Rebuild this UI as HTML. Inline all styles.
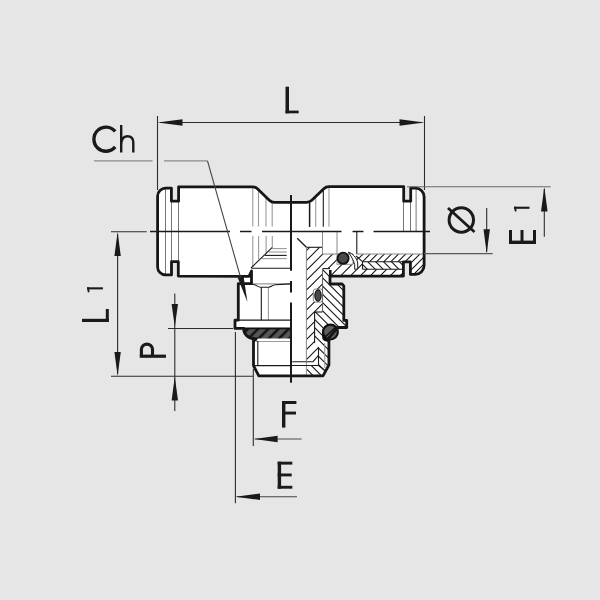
<!DOCTYPE html>
<html><head><meta charset="utf-8">
<style>
html,body{margin:0;padding:0;background:#e6e6e6;width:600px;height:600px;overflow:hidden}
svg{display:block}
</style></head>
<body>
<svg width="600" height="600" viewBox="0 0 600 600">
<defs>
<pattern id="hS" patternUnits="userSpaceOnUse" width="7.2" height="7.2" patternTransform="rotate(-45) translate(0,1)">
<rect width="7.2" height="7.2" fill="#575757"/>
<rect x="0" y="2.4" width="7.2" height="2.5" fill="#121212"/>
</pattern>
<pattern id="hO" patternUnits="userSpaceOnUse" width="2" height="2" patternTransform="rotate(-45)">
<rect width="2" height="2" fill="#6a6a6a"/>
<rect x="0" y="0.5" width="2" height="0.9" fill="#1e1e1e"/>
</pattern>
<path id="sil" d="M157.6,196 A8,8 0 0 1 165.6,188.2 L171.4,188.2 L171.4,201.2 L178.6,201.2 L178.6,186.8 L252.5,186.8 Q255.5,186.8 257.7,188.9 L269.3,200.2 Q271.5,202.3 274.5,202.3 L306.6,202.3 Q309.6,202.3 311.8,200.2 L323.8,188.8 Q326,186.7 329,186.7 L403.7,186.7 L403.7,201.2 L410.7,201.2 L410.7,188.2 L415.6,188.2 A8.5,8.5 0 0 1 424.1,196.7 L424.1,265.6 A8.8,8.8 0 0 1 415.3,274.4 L410.4,274.4 L410.4,261.9 L403.4,261.9 L403.4,276.1 L330,276.1 L330,284 L342,284 L343.8,286 L343.8,320.4 L346.7,320.4 L346.7,327.5 L337.5,327.5 L328.9,338 L328.9,365 L323,375.8 L258.8,375.8 L253.5,365.6 L253.5,340.5 L253.5,338.4 A9.8,9.8 0 0 1 243.7,328.4 L235,328.4 L235,320.2 L238.3,320.2 L238.3,283.6 L251.5,283.6 L251.5,271 L249,276.3 L178.3,276.1 L178.3,261.7 L171.5,261.7 L171.5,274.9 L165.6,274.9 A8,8 0 0 1 157.6,266.9 Z"/>
<path id="insert" d="M322.5,268.6 L330,268.6 L330,284 L342,284 L343.8,286 L343.8,320.4 L346.7,320.4 L346.7,327.5 L337.5,327.5 L328.9,338 L328.9,365 L323,375.8 L306.4,375.8 L306.4,365 L318.5,365 L318.5,347 L314.6,343 L314.6,312 L322.5,312 Z"/>
<path id="body" d="M306.4,247.3 L322.5,247.3 L322.5,254 L424.1,254 L424.1,265.6 A8.8,8.8 0 0 1 415.3,274.4 L410.4,274.4 L410.4,261.9 L403.4,261.9 L403.4,276.1 L330,276.1 L330,268.6 L322.5,268.6 L322.5,312 L314.6,312 L314.6,343 L318.5,347 L318.5,355.4 L313,361.7 L306.4,361.7 Z"/>
</defs>
<rect width="600" height="600" fill="#e6e6e6"/>

<!-- ===== body fill ===== -->
<use href="#sil" fill="#fff"/>
<rect x="238.3" y="275" width="13.2" height="9.5" fill="#fff"/>

<!-- ===== hatched sections ===== -->
<defs>
<clipPath id="cBody"><path d="M306.4,247.3 L322.5,247.3 L322.5,254 L356,254 L362.5,261.7 L403.4,261.9 L403.4,276.1 L330,276.1 L330,268.6 L322.5,268.6 L322.5,312 L314.6,312 L314.6,343 L318.5,347 L318.5,355.4 L313,361.7 L306.4,361.7 Z"/></clipPath>
<clipPath id="cTop"><path d="M356,254 L424.1,254 L424.1,265.6 A8.8,8.8 0 0 1 415.3,274.4 L410.4,274.4 L410.4,261.9 L362.5,261.7 Z"/></clipPath>
<clipPath id="cMid"><path d="M362.5,261.7 L403.4,261.9 L403.4,269.2 L362.5,269.2 Z"/></clipPath>
<clipPath id="cIns"><path d="M322.5,268.6 L330,268.6 L330,284 L342,284 L343.8,286 L343.8,320.4 L346.7,320.4 L346.7,327.5 L337.5,327.5 L328.9,338 L328.9,365 L323,375.8 L306.4,375.8 L306.4,365 L318.5,365 L318.5,347 L314.6,343 L314.6,312 L322.5,312 Z"/></clipPath>
</defs>
<g clip-path="url(#cBody)"><path d="M300.00,237.20L410.00,127.20M300.00,247.10L410.00,137.10M300.00,257.00L410.00,147.00M300.00,266.90L410.00,156.90M300.00,276.80L410.00,166.80M300.00,286.70L410.00,176.70M300.00,296.60L410.00,186.60M300.00,306.50L410.00,196.50M300.00,316.40L410.00,206.40M300.00,326.30L410.00,216.30M300.00,336.20L410.00,226.20M300.00,346.10L410.00,236.10M300.00,356.00L410.00,246.00M300.00,365.90L410.00,255.90M300.00,375.80L410.00,265.80M300.00,385.70L410.00,275.70M300.00,395.60L410.00,285.60M300.00,405.50L410.00,295.50M300.00,415.40L410.00,305.40M300.00,425.30L410.00,315.30M300.00,435.20L410.00,325.20M300.00,445.10L410.00,335.10M300.00,455.00L410.00,345.00M300.00,464.90L410.00,354.90M300.00,474.80L410.00,364.80M300.00,484.70L410.00,374.70M300.00,494.60L410.00,384.60" stroke="#111" stroke-width="1.05" fill="none"/></g>
<path d="M362.5,261.7 L403.4,261.9 L403.4,269.2 L362.5,269.2 Z" fill="#fff"/>
<g clip-path="url(#cTop)"><path d="M350.00,245.80L430.00,165.80M350.00,252.90L430.00,172.90M350.00,260.00L430.00,180.00M350.00,267.10L430.00,187.10M350.00,274.20L430.00,194.20M350.00,281.30L430.00,201.30M350.00,288.40L430.00,208.40M350.00,295.50L430.00,215.50M350.00,302.60L430.00,222.60M350.00,309.70L430.00,229.70M350.00,316.80L430.00,236.80M350.00,323.90L430.00,243.90M350.00,331.00L430.00,251.00M350.00,338.10L430.00,258.10M350.00,345.20L430.00,265.20M350.00,352.30L430.00,272.30M350.00,359.40L430.00,279.40M350.00,366.50L430.00,286.50" stroke="#111" stroke-width="1.05" fill="none"/></g>
<g clip-path="url(#cMid)"><path d="M355.00,201.60L410.00,256.60M355.00,209.50L410.00,264.50M355.00,217.40L410.00,272.40M355.00,225.30L410.00,280.30M355.00,233.20L410.00,288.20M355.00,241.10L410.00,296.10M355.00,249.00L410.00,304.00M355.00,256.90L410.00,311.90M355.00,264.80L410.00,319.80M355.00,272.70L410.00,327.70" stroke="#111" stroke-width="1.05" fill="none"/></g>
<path d="M322.5,268.6 L330,268.6 L330,284 L342,284 L343.8,286 L343.8,320.4 L346.7,320.4 L346.7,327.5 L337.5,327.5 L328.9,338 L328.9,365 L323,375.8 L306.4,375.8 L306.4,365 L318.5,365 L318.5,347 L314.6,343 L314.6,312 L322.5,312 Z" fill="#fff"/>
<g clip-path="url(#cIns)"><path d="M300.00,205.75L350.00,255.75M300.00,214.00L350.00,264.00M300.00,222.25L350.00,272.25M300.00,230.50L350.00,280.50M300.00,238.75L350.00,288.75M300.00,247.00L350.00,297.00M300.00,255.25L350.00,305.25M300.00,263.50L350.00,313.50M300.00,271.75L350.00,321.75M300.00,280.00L350.00,330.00M300.00,288.25L350.00,338.25M300.00,296.50L350.00,346.50M300.00,304.75L350.00,354.75M300.00,313.00L350.00,363.00M300.00,321.25L350.00,371.25M300.00,329.50L350.00,379.50M300.00,337.75L350.00,387.75M300.00,346.00L350.00,396.00M300.00,354.25L350.00,404.25M300.00,362.50L350.00,412.50M300.00,370.75L350.00,420.75M300.00,379.00L350.00,429.00M300.00,387.25L350.00,437.25" stroke="#111" stroke-width="1.05" fill="none"/></g>
<!-- pockets -->
<rect x="337" y="254" width="16" height="10.3" fill="#fff" stroke="#888" stroke-width="0.9"/>
<rect x="313.3" y="289" width="9.2" height="13.1" rx="2.2" fill="#fff" stroke="#777" stroke-width="0.9"/>

<!-- ===== thin lines (left cap / chamfers) ===== -->
<g stroke="#777" stroke-width="1" fill="none">
<line x1="165.5" y1="189" x2="165.5" y2="274"/>
<line x1="171.5" y1="201" x2="171.5" y2="262"/>
<line x1="178.5" y1="201" x2="178.5" y2="262"/>
<line x1="403.5" y1="201" x2="403.5" y2="231"/>
<line x1="410.5" y1="201" x2="410.5" y2="231"/>
<line x1="416.1" y1="189" x2="416.1" y2="231"/>
</g>
<g stroke="#9a9a9a" stroke-width="1.1" fill="none">
<line x1="252.8" y1="188" x2="252.8" y2="226.5"/>
<line x1="258.5" y1="190" x2="258.5" y2="226.5"/>
<line x1="266" y1="197" x2="266" y2="226.5"/>
<line x1="272.2" y1="203" x2="272.2" y2="226.5"/>
<line x1="252.8" y1="236" x2="252.8" y2="266"/>
<line x1="258.6" y1="236" x2="258.6" y2="259.3"/>
<line x1="266.1" y1="236" x2="266.1" y2="253.3"/>
<line x1="272.3" y1="236" x2="272.3" y2="247.4"/>
<line x1="272" y1="248.6" x2="286.7" y2="248.6"/>
<line x1="268.5" y1="252" x2="286.7" y2="252"/>
<line x1="262" y1="258.6" x2="286.7" y2="258.6"/>
<line x1="315.7" y1="197" x2="315.7" y2="226.7"/>
<line x1="329" y1="188" x2="329" y2="226.7"/>
<line x1="268.4" y1="287.3" x2="268.4" y2="320"/>
<line x1="251.5" y1="283.9" x2="291" y2="283.9"/>
<line x1="254" y1="341.5" x2="291" y2="341.5"/>
<line x1="306.4" y1="361.7" x2="306.4" y2="375.8"/>
<line x1="324.75" y1="343" x2="324.75" y2="368"/>
</g>
<g stroke="#1a1a1a" stroke-width="1.1" fill="none">
<line x1="265" y1="255.4" x2="286.7" y2="255.4"/>
<line x1="272.3" y1="247.4" x2="251" y2="268"/>
<line x1="251.5" y1="268.2" x2="291" y2="268.2"/>
<line x1="309.6" y1="203" x2="309.6" y2="227" stroke-width="1.5"/>
<line x1="323.3" y1="190" x2="323.3" y2="226.7"/>
<!-- hex lines -->
<path d="M251.5,284 C256,284.2 257.5,287.25 260.5,287.25 L268.4,287.25 C271,287.25 272.5,285 275.5,284.8 L290,283.9"/>
<line x1="261.3" y1="287.3" x2="261.3" y2="320"/>
<line x1="238.3" y1="320.2" x2="291" y2="320.2" stroke-width="1.3"/>
<line x1="253.5" y1="365.6" x2="291" y2="365.6"/>
<line x1="257.8" y1="341" x2="257.8" y2="365.6"/>
</g>
<!-- seal -->
<path d="M243.7,328.4 L291,328.4 L291,338.6 L253.5,338.6 A9.8,10 0 0 1 243.7,328.4 Z" fill="url(#hS)"/>
<path d="M291,328.4 L243.7,328.4 A9.8,10 0 0 0 253.5,338.6" fill="none" stroke="#111" stroke-width="1.8"/>
<path d="M251,337.5 L258,337.5 L257,340.5 L253.5,341.5 Z" fill="#111"/>

<!-- ===== section inner lines ===== -->
<g stroke="#1a1a1a" stroke-width="1.1" fill="none">
<line x1="297.2" y1="238.2" x2="306.4" y2="247.3" stroke-width="1.3"/>
<line x1="306.4" y1="247.3" x2="322.5" y2="247.3"/>

<line x1="356.8" y1="231.5" x2="356.8" y2="254"/>
<line x1="362.5" y1="261.7" x2="403.4" y2="261.7"/>
<line x1="362.5" y1="269.2" x2="403.4" y2="269.2"/>
<line x1="362.5" y1="261.7" x2="362.5" y2="269.2"/>
<line x1="356" y1="256" x2="362.5" y2="261.7"/>
<line x1="322.5" y1="268.6" x2="330" y2="268.6"/>
<line x1="322.5" y1="268.6" x2="322.5" y2="312" stroke="#666"/>
<line x1="314.6" y1="312" x2="322.5" y2="312"/>
<line x1="314.6" y1="312" x2="314.6" y2="343"/>
<line x1="318.5" y1="347" x2="318.5" y2="365"/>
<polyline points="292.2,361.7 313,361.7 318.5,355.4"/>
<polyline points="291,365.5 318.5,365.5 324.3,370"/>
</g>
<g stroke="#888" stroke-width="1" fill="none">
<line x1="356.8" y1="254" x2="424" y2="254"/>
<line x1="306.4" y1="247.3" x2="306.4" y2="361.7"/>
<line x1="322.5" y1="231.5" x2="322.5" y2="254"/>
<line x1="337" y1="231.5" x2="337" y2="254"/>
<line x1="322.5" y1="254" x2="337" y2="254"/>
</g>
<!-- o-rings -->
<circle cx="343.1" cy="258.3" r="5.6" fill="url(#hO)" stroke="#111" stroke-width="1.8"/>
<ellipse cx="318" cy="295.6" rx="3.1" ry="5.6" fill="url(#hO)" stroke="#1a1a1a" stroke-width="1.3"/>
<path d="M322.2,331 L322.2,338 Q322.5,341.5 329,342 L330,333 Z" fill="#111"/>
<circle cx="330.4" cy="332.1" r="7.4" fill="#5e5e5e" stroke="#111" stroke-width="2.2"/>
<line x1="325.5" y1="336.5" x2="335.5" y2="327.5" stroke="#111" stroke-width="1.6"/>
<!-- collet tooth -->
<path d="M348.4,252.2 C352.5,253.5 356.8,257.5 357.7,263 L357.7,269.2 L354.7,269.2 L354.7,264.5 C353.5,260 351,256 348.4,252.2 Z" fill="#fff" stroke="#1a1a1a" stroke-width="1"/>

<!-- ===== outline ===== -->
<use href="#sil" fill="none" stroke="#161616" stroke-width="2.8" stroke-linejoin="round"/>
<path d="M330.3,270 L330.3,277" stroke="#161616" stroke-width="2.6"/>

<!-- ===== centerlines ===== -->
<g stroke="#1a1a1a" stroke-width="1.5" fill="none">
<line x1="150" y1="231.5" x2="230" y2="231.5"/>
<line x1="240" y1="231.5" x2="251.5" y2="231.5"/>
<line x1="262" y1="231.5" x2="341.5" y2="231.5"/>
<line x1="352.5" y1="231.5" x2="363.5" y2="231.5"/>
<line x1="373.5" y1="231.5" x2="430" y2="231.5"/>
</g>
<g stroke="#1a1a1a" stroke-width="2" fill="none">
<line x1="291" y1="195" x2="291" y2="270.8"/>
<line x1="291" y1="281" x2="291" y2="292.5"/>
<line x1="291" y1="302.5" x2="291" y2="382.8"/>
</g>

<!-- ===== dimension lines ===== -->
<g stroke="#2c2c2c" stroke-width="1.1" fill="none">
<!-- L -->
<line x1="157.5" y1="116" x2="157.5" y2="190"/>
<line x1="424.5" y1="116" x2="424.5" y2="190"/>
<line x1="160" y1="122.5" x2="422" y2="122.5"/>
<!-- Ch leader -->
<polyline points="94,160.8 152.5,160.8" stroke="#8a8a8a" stroke-width="1.3"/>
<polyline points="164,160.8 207.5,160.8" stroke="#8a8a8a" stroke-width="1.3"/>
<line x1="207.5" y1="160.8" x2="241" y2="279" stroke="#444"/>
<!-- L1 -->
<line x1="111" y1="231.8" x2="146.7" y2="231.8"/>
<line x1="117.6" y1="234" x2="117.6" y2="374"/>
<line x1="111" y1="376.2" x2="253" y2="376.2"/>
<!-- P -->
<line x1="168" y1="328.5" x2="233" y2="328.5"/>
<line x1="174.8" y1="293.5" x2="174.8" y2="411"/>
<!-- F -->
<line x1="253.3" y1="369" x2="253.3" y2="446"/>
<line x1="255" y1="439" x2="301.6" y2="439" stroke="#4a4a4a"/>
<!-- E -->
<line x1="235.4" y1="332" x2="235.4" y2="503.3"/>
<line x1="237" y1="496.7" x2="297" y2="496.7" stroke="#444"/>
<!-- Ø / E1 -->
<line x1="407" y1="186.8" x2="550.7" y2="186.8" stroke="#6a6a6a"/>
<line x1="424" y1="253.7" x2="492.7" y2="253.7" stroke="#5a5a5a" stroke-width="1.2"/>
<line x1="486.7" y1="208" x2="486.7" y2="252"/>
<line x1="544.3" y1="189" x2="544.3" y2="236.7"/>
</g>
<!-- arrowheads -->
<g fill="#1a1a1a">
<polygon points="157.5,122.5 182.5,119.3 182.5,125.7"/>
<polygon points="424.5,122.5 399.5,119.3 399.5,125.7"/>
<polygon points="117.6,232 114.4,256 120.8,256"/>
<polygon points="117.6,376 114.4,352 120.8,352"/>
<polygon points="174.8,327 171.6,304 178,304"/>
<polygon points="174.8,376.5 171.6,400.5 178,400.5"/>
<polygon points="253.2,439 277.6,435.8 277.6,442.2"/>
<polygon points="235.4,496.7 260,493.5 260,499.9"/>
<polygon points="486.7,253.3 483.5,229.3 489.9,229.3"/>
<polygon points="544.3,187 541,211.5 547.6,211.5"/>
<polygon points="237.6,277.5 243.6,276.5 247.4,302"/>
</g>

<!-- ===== labels (glyphs) ===== -->
<g fill="#1a1a1a">
<!-- L top -->
<rect x="285.5" y="86.7" width="3.5" height="26.6"/>
<rect x="285.5" y="110.6" width="13.2" height="2.7"/>
<!-- F -->
<rect x="282" y="401" width="3.4" height="26.6"/>
<rect x="282" y="401" width="14.4" height="3"/>
<rect x="282" y="411.6" width="14" height="2.9"/>
<!-- E bottom -->
<rect x="277.7" y="461.7" width="3.4" height="27"/>
<rect x="277.7" y="461.7" width="14.6" height="2.9"/>
<rect x="277.7" y="473.5" width="14" height="2.9"/>
<rect x="277.7" y="485.8" width="14.6" height="2.9"/>
<!-- E1 rotated -->
<rect x="509" y="240.6" width="27" height="3.4"/>
<rect x="509" y="230" width="3" height="14"/>
<rect x="520.5" y="230" width="3" height="14"/>
<rect x="533" y="230" width="3" height="14"/>
<rect x="514" y="206.7" width="15.5" height="2.1"/>
<polygon points="514,206.7 516,206.7 516.6,211.2 514.8,211.6"/>
<!-- L1 rotated -->
<rect x="82" y="318.8" width="26.8" height="3.2"/>
<rect x="105.8" y="309" width="3" height="13"/>
<rect x="87" y="287.3" width="15.9" height="2.1"/>
<polygon points="87,287.3 89,287.3 89.6,292 87.8,292.4"/>
</g>
<g fill="none" stroke="#1a1a1a">
<!-- P rotated -->
<path d="M139.75,356.2 L166,356.2" stroke-width="3.2"/>
<path d="M141.4,356.2 L141.4,349 A5.6,5.6 0 0 1 152.5,349 L152.5,356.2" stroke-width="3.1"/>
<!-- C -->
<path d="M115.2,131.4 A12.05,12.05 0 1 0 115.2,146.9" stroke-width="3.4"/>
<!-- h -->
<path d="M121.2,125 L121.2,152.5 M121.2,145 C121.2,138.5 124,136.2 127.3,136.2 C131,136.2 133.3,138.5 133.3,142.5 L133.3,152.5" stroke-width="2.4"/>
<!-- Ø -->
<circle cx="461.3" cy="220" r="12.2" stroke-width="3"/>
<line x1="448" y1="208" x2="474.5" y2="232" stroke-width="2.8"/>
</g>
</svg>
</body></html>
